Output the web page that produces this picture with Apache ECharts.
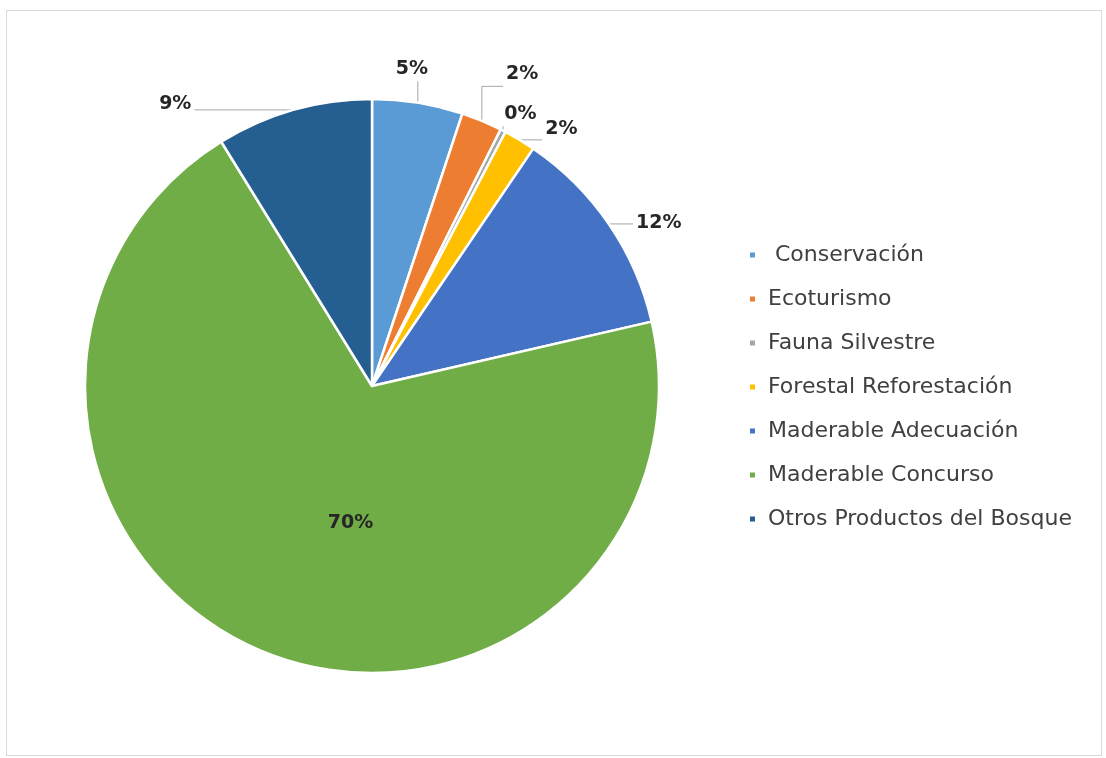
<!DOCTYPE html>
<html lang="es">

<head>
    <meta charset="UTF-8">
    <title>Distribución</title>
    <script src="https://cdn.jsdelivr.net/npm/echarts@6.0.0/dist/echarts.min.js"></script>
    <style>
        body { margin: 0; background: #fff; }
        #frame {
            position: absolute; left: 6px; top: 10px; width: 1096px; height: 746px;
            border: 1px solid #d9d9d9; box-sizing: border-box;
        }
        #chart { width: 1106px; height: 758px; }
    </style>
</head>

<body>
    <div id="frame"></div>
    <div id="chart"></div>
    <script>
        // categorias y porcentajes
        var categories = ['Conservación', 'Ecoturismo', 'Fauna Silvestre', 'Forestal Reforestación',
            'Maderable Adecuación', 'Maderable Concurso', 'Otros Productos del Bosque'];
        var values = [5.1, 2.3, 0.3, 1.8, 11.9, 69.8, 8.8];
        var colors = ['#5B9BD5', '#ED7D31', '#A5A5A5', '#FFC000', '#4472C4', '#70AD47', '#255E91'];

        // desplazamiento de las etiquetas para parecerse a excel
        var labelShift = [[-47, -22], [-5, -38], [-46, -19], [-34, -25], [-1, 6], [35, 2], [-76, 6]];

        var chart = echarts.init(document.getElementById('chart'));

        var data = categories.map(function (name, i) {
            var item = { name: name, value: values[i] };
            if (name === 'Maderable Concurso') {
                item.label = { position: 'inside' };
                item.labelLine = { show: false };
            }
            return item;
        });

        // punto del rectangulo de la etiqueta mas cercano al borde del sector
        function nearest(p, r) {
            var pad = 3;
            var x = Math.min(Math.max(p[0], r.x - pad), r.x + r.width + pad);
            var y = Math.min(Math.max(p[1], r.y - pad), r.y + r.height + pad);
            return [x, y];
        }

        var option = {
            color: colors,
            legend: {
                orient: 'vertical',
                left: 743,
                top: 239,
                itemWidth: 7,
                itemHeight: 7,
                itemGap: 22,
                icon: 'rect',
                formatter: function (name) {
                    return name === 'Conservación' ? ' ' + name : name;
                },
                textStyle: { fontFamily: 'DejaVu Sans', fontSize: 22, color: '#404040', padding: [0, 0, 0, 7] },
                data: categories
            },
            series: [{
                type: 'pie',
                center: [372, 386],
                radius: 287,
                startAngle: 90,
                clockwise: true,
                animation: false,
                itemStyle: { borderColor: '#fff', borderWidth: 2.5 },
                label: {
                    position: 'outside',
                    formatter: function (p) { return Math.round(p.value) + '%'; },
                    fontFamily: 'DejaVu Sans',
                    fontWeight: 'bold',
                    fontSize: 19,
                    color: '#262626'
                },
                labelLine: {
                    length: 12,
                    length2: 18,
                    lineStyle: { color: '#a6a6a6', width: 1 }
                },
                labelLayout: function (p) {
                    var s = labelShift[p.dataIndex];
                    var out = { dx: s[0], dy: s[1] };
                    if (p.labelLinePoints) {
                        var p0 = p.labelLinePoints[0];
                        var r = {
                            x: p.labelRect.x + s[0], y: p.labelRect.y + s[1],
                            width: p.labelRect.width, height: p.labelRect.height
                        };
                        var end = nearest(p0, r);
                        out.labelLinePoints = [p0, [p0[0], end[1]], end];
                    }
                    return out;
                },
                data: data
            }]
        };

        chart.setOption(option);
    </script>
</body>

</html>
